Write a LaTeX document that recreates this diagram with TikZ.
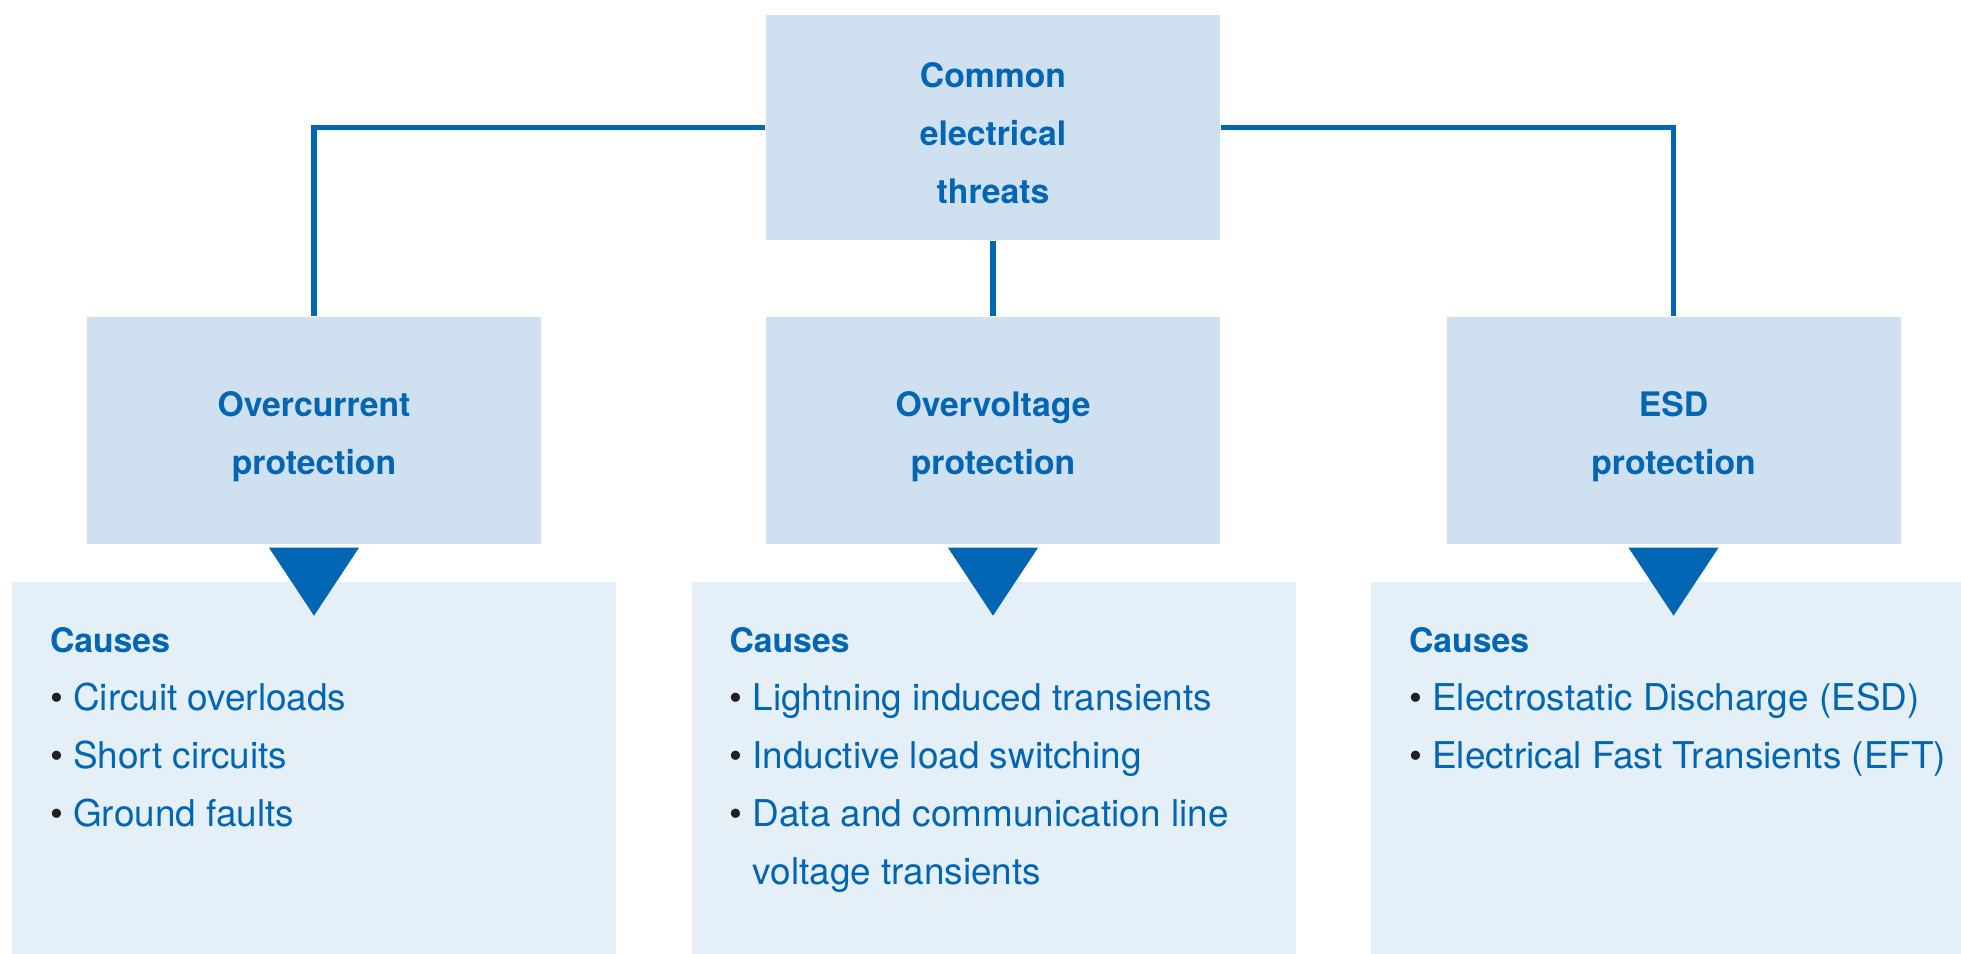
\documentclass[tikz,border=0pt]{standalone}
\usepackage{fontspec}
\setmainfont{TeX Gyre Heros}
\usetikzlibrary{calc}
\definecolor{threatblue}{HTML}{0066B3}
\definecolor{boxblue}{HTML}{CFE1F0}
\definecolor{paleblue}{HTML}{E4EFF7}
\definecolor{dotgrey}{HTML}{231F20}
\newcommand{\threatfont}{\fontsize{9.6}{16.5}\selectfont\bfseries}
\newcommand{\causefont}{\fontsize{10.5}{16.5}\selectfont}
\newcommand{\causeitem}[1]{{\color{dotgrey}\textbullet}\ #1}
% taller first line, so the titles sit a bit lower in their boxes
\newcommand{\titlestrut}{\rule{0pt}{10.5pt}}
\tikzset{threat/.style={rectangle, fill=boxblue, text=threatblue, minimum width=4.54cm, minimum height=2.27cm, align=center, font=\threatfont}}
\tikzset{causebox/.style={rectangle, fill=paleblue, minimum width=6.04cm, minimum height=3.8cm, anchor=north}}
\tikzset{causelist/.style={anchor=north west, inner sep=0pt, align=left, text=threatblue, font=\causefont}}
\tikzset{edge/.style={line width=1.5pt, threatblue}}
\tikzset{pointer/.style={fill=threatblue}}

\begin{document}
\begin{tikzpicture}
\useasboundingbox (0,0) rectangle (19.61,9.54);
% top of the tree and the three kinds of protection
\node (top) at (9.93,8.265)[threat, minimum height=2.25cm]{\titlestrut Common\\electrical\\threats};
\node (oc) at (3.14,5.235)[threat]{\titlestrut Overcurrent\\protection};
\node (ov) at (9.93,5.235)[threat]{\titlestrut Overvoltage\\protection};
\node (esd) at (16.735,5.235)[threat]{\titlestrut ESD\\protection};
\draw[edge] (top.west) -| (oc.north);
\draw[edge] (top.east) -| (esd.north);
\draw[edge] (top.south) -- (ov.north);
% cause panels
\node (occ) at (3.14,3.73)[causebox]{};
\node (ovc) at (9.935,3.73)[causebox]{};
\node (esdc) at (16.73,3.73)[causebox]{};
\fill[pointer] ($(oc.south)+(-0.45,-0.03)$) -- ($(oc.south)+(0.45,-0.03)$) -- ($(oc.south)+(0,-0.71)$) -- cycle;
\fill[pointer] ($(ov.south)+(-0.45,-0.03)$) -- ($(ov.south)+(0.45,-0.03)$) -- ($(ov.south)+(0,-0.71)$) -- cycle;
\fill[pointer] ($(esd.south)+(-0.45,-0.03)$) -- ($(esd.south)+(0.45,-0.03)$) -- ($(esd.south)+(0,-0.71)$) -- cycle;
\node (occl) at ($(occ.north west)+(0.38,-0.46)$)[causelist]{{\threatfont Causes}\\
  \causeitem{Circuit overloads}\\
  \causeitem{Short circuits}\\
  \causeitem{Ground faults}};
\node (ovcl) at ($(ovc.north west)+(0.38,-0.46)$)[causelist]{{\threatfont Causes}\\
  \causeitem{Lightning induced transients}\\
  \causeitem{Inductive load switching}\\
  \causeitem{Data and communication line}\\
  \phantom{\textbullet\ }voltage transients};
\node (esdcl) at ($(esdc.north west)+(0.38,-0.46)$)[causelist]{{\threatfont Causes}\\
  \causeitem{Electrostatic Discharge (ESD)}\\
  \causeitem{Electrical Fast Transients (EFT)}};
\end{tikzpicture}
\end{document}
